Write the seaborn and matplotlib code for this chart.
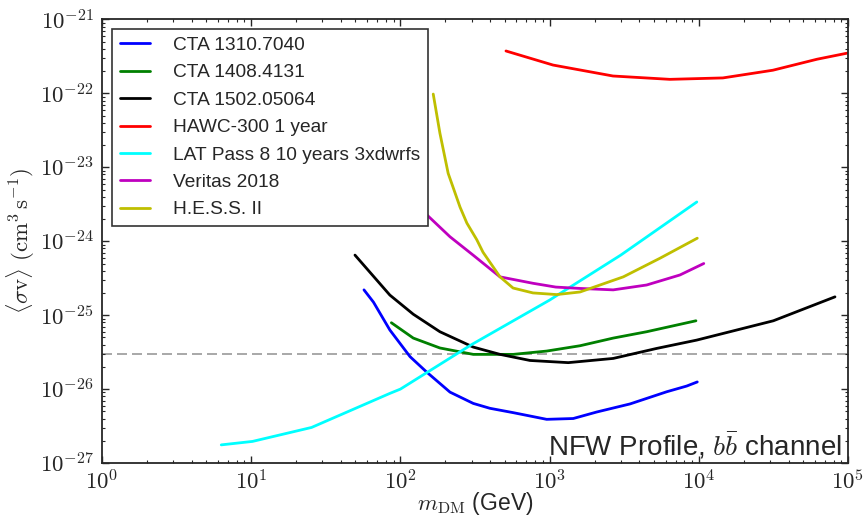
import numpy as np
import pandas as pd
import seaborn as sns
import matplotlib.pyplot as plt
from matplotlib import ticker

# Sensitivity curves, NFW profile, b-bbar channel
cta_1310_mass = [57, 66, 85, 116, 150, 215, 308, 398, 571, 956, 1440, 2070, 3460, 6090, 8300, 9770]
cta_1310_sv = [2.2e-25, 1.5e-25, 6.3e-26, 2.75e-26, 1.7e-26, 9.1e-27, 6.4e-27, 5.5e-27, 4.8e-27,
               3.9e-27, 4.0e-27, 4.9e-27, 6.3e-27, 9.2e-27, 1.1e-26, 1.25e-26]

cta_1408_mass = [87, 122, 184, 308, 571, 956, 1600, 2670, 4470, 9570]
cta_1408_sv = [7.9e-26, 4.9e-26, 3.6e-26, 2.95e-26, 2.95e-26, 3.27e-26, 3.86e-26, 4.9e-26, 5.97e-26, 8.4e-26]

cta_1502_mass = [49.6, 85, 122, 184, 308, 465, 739, 1334, 2670, 5220, 9680, 31600, 81800]
cta_1502_sv = [6.5e-25, 1.87e-25, 1.03e-25, 5.97e-26, 3.7e-26, 2.95e-26, 2.44e-26, 2.28e-26,
               2.6e-26, 3.55e-26, 4.6e-26, 8.4e-26, 1.77e-25]

hawc_mass = [510, 1054, 2660, 6400, 14500, 31400, 62000, 98500]
hawc_sv = [3.75e-22, 2.42e-22, 1.72e-22, 1.55e-22, 1.62e-22, 2.06e-22, 2.9e-22, 3.5e-22]

lat_mass = [6.3, 10.2, 25.4, 85, 100, 300, 1000, 3000, 9700]
lat_sv = [1.76e-27, 1.96e-27, 3.03e-27, 8.75e-27, 1.0e-26, 4.0e-26, 1.6e-25, 6.5e-25, 3.4e-24]

veritas_mass = [100, 151, 215, 307, 465, 774, 1100, 1600, 2670, 4470, 7480, 10800]
veritas_sv = [4.9e-24, 2.26e-24, 1.15e-24, 6.5e-25, 3.3e-25, 2.7e-25, 2.4e-25, 2.3e-25, 2.2e-25,
              2.56e-25, 3.5e-25, 5.0e-25]

hess_mass = [166, 184, 209, 251, 279, 325, 358, 465, 569, 774, 1115, 1600, 3120, 5500, 9770]
hess_sv = [9.8e-23, 2.9e-23, 8.3e-24, 2.9e-24, 1.76e-24, 1.05e-24, 7.1e-25, 3.3e-25, 2.33e-25,
           2.0e-25, 1.9e-25, 2.06e-25, 3.3e-25, 5.9e-25, 1.1e-24]

thermal_sv = 3e-26

x_decades = [0, 1, 2, 3, 4, 5]
y_decades = [-27, -26, -25, -24, -23, -22, -21]

labels = ["CTA 1310.7040", "CTA 1408.4131", "CTA 1502.05064", "HAWC-300 1 year",
          "LAT Pass 8 10 years 3xdwrfs", "Veritas 2018", "H.E.S.S. II"]
colors = ["#0000ff", "#008000", "#000000", "#ff0000", "#00ffff", "#bf00bf", "#bfbf00"]

curves = [(cta_1310_mass, cta_1310_sv), (cta_1408_mass, cta_1408_sv), (cta_1502_mass, cta_1502_sv),
          (hawc_mass, hawc_sv), (lat_mass, lat_sv), (veritas_mass, veritas_sv), (hess_mass, hess_sv)]

frames = []
for lab, (m, sv) in zip(labels, curves):
    frames.append(pd.DataFrame({"mass": m, "sigmav": sv, "label": lab}))
df = pd.concat(frames, ignore_index=True)

sns.set_style("ticks")
plt.rcParams["font.family"] = ["Liberation Sans", "DejaVu Sans"]
plt.rcParams["mathtext.fontset"] = "cm"
plt.rcParams["xtick.direction"] = "in"
plt.rcParams["ytick.direction"] = "in"

fig = plt.figure(figsize=(8.63, 5.17), dpi=100)
ax = fig.add_axes([0.1182, 0.1044, 0.8644, 0.8579])

sns.lineplot(data=df, x="mass", y="sigmav", hue="label", hue_order=labels,
             palette=dict(zip(labels, colors)), estimator=None, sort=False,
             linewidth=2, ax=ax)

ax.axhline(thermal_sv, color="#999999", ls="--", lw=1.2, dashes=(6, 3), zorder=0)

ax.set_xscale("log")
ax.set_yscale("log")
ax.set_xlim(10.0 ** x_decades[0], 10.0 ** x_decades[-1])
ax.set_ylim(10.0 ** y_decades[0], 10.0 ** y_decades[-1])

# major ticks on each decade, minor at 2..9 inside the range
ax.set_xticks([10.0 ** d for d in x_decades])
ax.set_yticks([10.0 ** d for d in y_decades])
ax.set_xticklabels([r"$10^{%d}$" % d for d in x_decades])
ax.set_yticklabels([r"$10^{%d}$" % d for d in y_decades])
ax.set_xticks([k * 10.0 ** d for d in x_decades[:-1] for k in range(2, 10)], minor=True)
ax.set_yticks([k * 10.0 ** d for d in y_decades[:-1] for k in range(2, 10)], minor=True)
ax.xaxis.set_minor_formatter(ticker.NullFormatter())
ax.yaxis.set_minor_formatter(ticker.NullFormatter())
ax.tick_params(which="both", top=True, right=True, direction="in", labelsize=16.5)
ax.tick_params(axis="x", pad=5)
ax.tick_params(axis="y", pad=6)
ax.tick_params(which="major", length=5, width=1)
ax.tick_params(which="minor", length=2.5, width=0.8)
for s in ax.spines.values():
    s.set_linewidth(1.3)

ax.set_xlabel(r"$m_{\rm DM}$ (GeV)", fontsize=16.5, labelpad=-3)
ax.set_ylabel(r"$\langle\sigma {\rm v}\rangle\ ({\rm cm}^3\,{\rm s}^{-1})$", fontsize=16.5, labelpad=2)

leg = ax.legend(loc="upper left", bbox_to_anchor=(0.0134, 0.9786), borderaxespad=0,
                fontsize=13.8, fancybox=False, framealpha=1, edgecolor="#333333",
                handlelength=1.6, handletextpad=1.2, labelspacing=0.52, borderpad=0.4)
leg.get_frame().set_linewidth(1.2)
for line in leg.get_lines():
    line.set_linewidth(2)

ax.text(0.992, 0.018, r"NFW Profile, $b\bar{b}$ channel", transform=ax.transAxes,
        ha="right", va="baseline", fontsize=20)

fig.savefig("out.png", dpi=100)
